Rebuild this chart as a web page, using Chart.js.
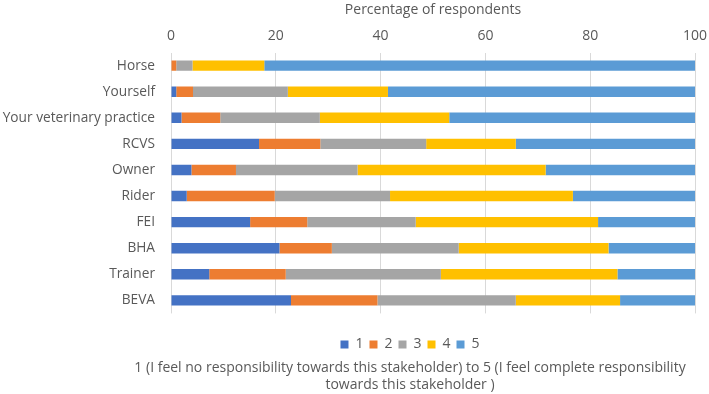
<!DOCTYPE html>
<html>
<head>
<meta charset="utf-8">
<script src="https://cdn.jsdelivr.net/npm/chart.js@4"></script>
<style>
  body { margin: 0; background: #fff; }
  .wrap { width: 709px; height: 394px; }
</style>
</head>
<body>
<div class="wrap"><canvas id="chart"></canvas></div>
<script>
const categories = ['Horse', 'Yourself', 'Your veterinary practice', 'RCVS', 'Owner', 'Rider', 'FEI', 'BHA', 'Trainer', 'BEVA'];
const score1 = [0, 1.0, 2.0, 16.8, 3.9, 3.0, 15.1, 20.7, 7.3, 22.9];
const score2 = [1.0, 3.2, 7.4, 11.7, 8.5, 16.8, 10.9, 10.0, 14.6, 16.5];
const score3 = [3.1, 18.1, 19.0, 20.2, 23.2, 22.0, 20.7, 24.2, 29.6, 26.4];
const score4 = [13.7, 19.1, 24.7, 17.1, 35.9, 34.9, 34.8, 28.6, 33.7, 19.9];
const score5 = [82.2, 58.6, 46.9, 34.2, 28.5, 23.3, 18.5, 16.5, 14.8, 14.3];
const xTicks = [0, 20, 40, 60, 80, 100];

const textColor = '#595959';
const fontFamily = '"Open Sans", "Noto Sans", sans-serif';

const series = [
  { label: '1', data: score1, color: '#4472C4' },
  { label: '2', data: score2, color: '#ED7D31' },
  { label: '3', data: score3, color: '#A5A5A5' },
  { label: '4', data: score4, color: '#FFC000' },
  { label: '5', data: score5, color: '#5B9BD5' },
];

const ctx = document.getElementById('chart').getContext('2d');
new Chart(ctx, {
  type: 'bar',
  data: {
    labels: categories,
    datasets: series.map(s => ({
      label: s.label,
      data: s.data,
      backgroundColor: s.color,
      borderWidth: 0,
      barPercentage: 0.4,
      categoryPercentage: 1,
    })),
  },
  options: {
    indexAxis: 'y',
    responsive: true,
    maintainAspectRatio: false,
    animation: false,
    // left padding pushes the centre of legend + caption towards the plot, like Excel
    layout: { padding: { left: 125, right: 14, top: 0, bottom: 0 } },
    plugins: {
      tooltip: { enabled: false },
      legend: {
        position: 'bottom',
        // empty title = gap between plot and legend
        title: { display: true, text: '', font: { size: 10, lineHeight: 1 }, padding: { top: 4, bottom: 4 } },
        labels: {
          color: textColor,
          boxWidth: 8,
          boxHeight: 8,
          padding: 6,
          font: { family: fontFamily, size: 14 },
        },
      },
      title: {
        display: true,
        position: 'bottom',
        text: ['1 (I feel no responsibility towards this stakeholder) to 5 (I feel complete responsibility', 'towards this stakeholder )'],
        color: textColor,
        font: { family: fontFamily, size: 14, weight: 'normal', lineHeight: 1.2 },
        padding: { top: -2, bottom: 1 },
      },
    },
    scales: {
      x: {
        position: 'top',
        stacked: true,
        min: 0,
        max: 100,
        afterBuildTicks: scale => { scale.ticks = xTicks.map(v => ({ value: v })); },
        afterFit: scale => { scale.paddingRight = 0; },
        title: {
          display: true,
          text: 'Percentage of respondents',
          color: textColor,
          font: { family: fontFamily, size: 14, lineHeight: 1.2 },
          padding: { top: 2, bottom: 0 },
        },
        ticks: { color: textColor, font: { family: fontFamily, size: 14, lineHeight: 1.2 }, padding: 8.5 },
        grid: { color: '#D9D9D9', drawTicks: false },
        border: { display: false },
      },
      y: {
        stacked: true,
        afterFit: scale => {
          scale.width = 46;
          scale._computeLabelArea = () => undefined; // don't clip long labels to the narrow axis box
        },
        ticks: { color: textColor, font: { family: fontFamily, size: 13.7 }, padding: 8 },
        grid: { display: false },
        border: { display: false },
      },
    },
  },
});
</script>
</body>
</html>
